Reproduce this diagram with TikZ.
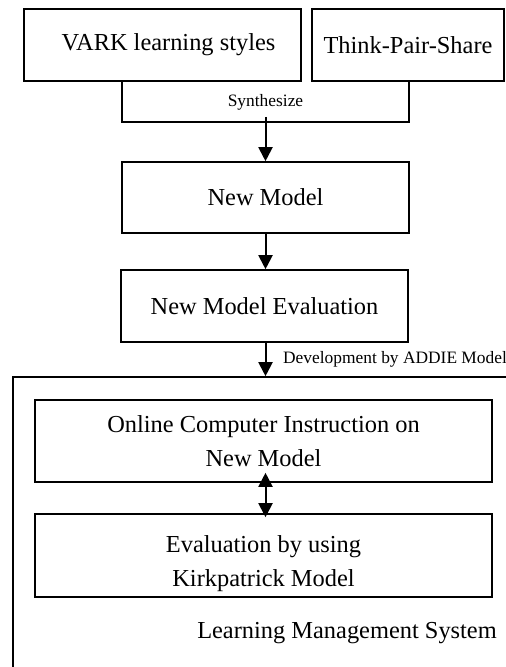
\documentclass[tikz,border=0pt]{standalone}
\usepackage{fontspec}
\setmainfont{Liberation Serif}
\usetikzlibrary{arrows.meta}
\def\tipw{7pt}
\def\tipl{7pt}

\begin{document}
\begin{tikzpicture}[
    x=0.5pt, y=-0.5pt,
    every node/.style={font=\fontsize{12.2}{17}\selectfont},
    box/.style={draw=black,line width=0.8pt,inner sep=0pt,align=center},
    small/.style={font=\fontsize{8.7}{10}\selectfont},
    c/.style={draw=black,line width=0.8pt},
    arr/.style={line width=1pt,-{Triangle[width=\tipw,length=\tipl]}},
    dblarr/.style={line width=1pt,
        {Triangle[width=\tipw,length=\tipl]}-{Triangle[width=\tipw,length=\tipl]}}
]

\useasboundingbox (0,0) rectangle (506,667);
\clip (0,0) rectangle (506,667);

\node [box,minimum width=138.5pt,minimum height=36pt] (vark)  at (162.5, 45) {\hskip6pt VARK learning styles};
\node [box,minimum width=96pt,minimum height=36pt]    (think) at (408, 45)   {Think-Pair-Share};

\node [box,minimum width=143.5pt,minimum height=35.5pt] (newm) at (265.5, 197.5) {New Model};
\node [box,minimum width=143.5pt,minimum height=36pt]   (eval) at (264.5, 306)   {New Model Evaluation};

% LMS container, cut off at the right and bottom
\node [box,minimum width=258.5pt,minimum height=156.5pt] (lms) at (271.5, 533.5) {};

\node [box,minimum width=228.5pt,minimum height=41pt]   (online) at (263.5, 441)
    {Online Computer Instruction on\\New Model};
\node [box,minimum width=228.5pt,minimum height=41.5pt] (kirk)   at (263.5, 555.5)
    {\rule{0pt}{17pt}Evaluation by using\\Kirkpatrick Model};

\node (lmstext) at (347, 633) {Learning Management System};

\coordinate (synl) at (122, 122);
\coordinate (synr) at (409, 122);
\coordinate (syn)  at (265.5, 117);

\path [c] (vark.south -| synl) -- (synl) -- (synr) -- (think.south -| synr);
\node [small] (syntext) at (265.5, 102) {Synthesize};

\draw [arr] (syn) -- (newm.north -| syn);
\draw [arr] (newm.south -| syn) -- (eval.north -| syn);
\draw [arr] (eval.south -| syn) -- (lms.north -| syn)
    node [small,midway,anchor=west,xshift=5pt] (addie) {Development by ADDIE Model};
\draw [dblarr] ([yshift=5pt]online.south -| syn) -- ([yshift=-2pt]kirk.north -| syn);

\end{tikzpicture}
\end{document}
